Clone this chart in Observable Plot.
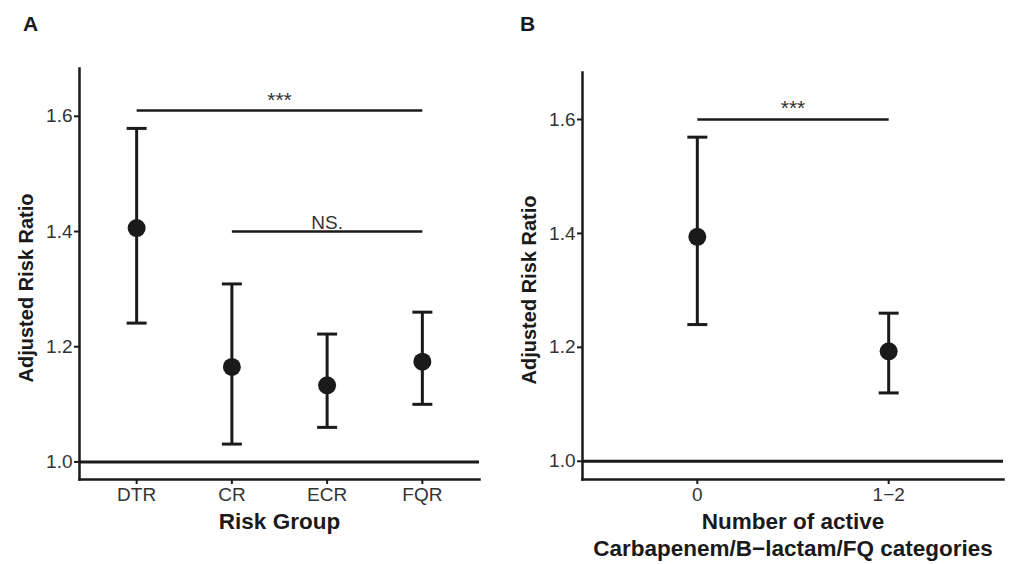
<!DOCTYPE html>
<html><head><meta charset="utf-8">
<script src="https://cdn.jsdelivr.net/npm/d3@7"></script>
<script src="https://cdn.jsdelivr.net/npm/@observablehq/plot@0.6"></script>
<style>
body{margin:0;background:#fff;font-family:"Liberation Sans",Arial,sans-serif;}
#wrap{position:relative;width:1011px;height:564px;overflow:hidden;}
.panel{position:absolute;top:0;}
.tag{position:absolute;font:bold 21px "Liberation Sans",Arial,sans-serif;color:#1a1a1a;line-height:1;}
</style></head><body>
<div id="wrap">
<div id="pa" class="panel" style="left:0"></div>
<div id="pb" class="panel" style="left:505px"></div>
<div class="tag" style="left:23px;top:13px">A</div>
<div class="tag" style="left:520px;top:13px">B</div>
</div>
<script>
// Panel A
const groupsA = ["DTR", "CR", "ECR", "FQR"];
const rrA = [1.406, 1.165, 1.133, 1.174];
const loA = [1.241, 1.031, 1.060, 1.100];
const hiA = [1.579, 1.309, 1.222, 1.260];
const bracketsA = [
  {from: "DTR", to: "FQR", y: 1.61, label: "***"},
  {from: "CR", to: "FQR", y: 1.40, label: "NS."}
];
// Panel B
const groupsB = ["0", "1\u22122"];
const rrB = [1.394, 1.193];
const loB = [1.240, 1.120];
const hiB = [1.569, 1.260];
const bracketsB = [
  {from: "0", to: "1\u22122", y: 1.60, label: "***"}
];
const yTicks = [1.0, 1.2, 1.4, 1.6];
const refValue = 1.0;
const yLabel = "Adjusted Risk Ratio";
const xLabelA = "Risk Group";
const xLabelB = "Number of active\nCarbapenem/B\u2212lactam/FQ categories";

const ink = "#1a1a1a";
const cap = {draw(ctx) { ctx.moveTo(-10, 0); ctx.lineTo(10, 0); }};

function panel({cats, rr, lo, hi, brackets, width, ml, mr, mt, mb, domain, xlabel}) {
  const idx = cats.map((c, i) => i + 1);
  const rows = cats.map((c, i) => ({x: i + 1, rr: rr[i], lo: lo[i], hi: hi[i]}));
  const pos = c => cats.indexOf(c) + 1;
  const br = brackets.map(b => ({x1: pos(b.from), x2: pos(b.to), xm: (pos(b.from) + pos(b.to)) / 2, y: b.y, label: b.label, stars: b.label.startsWith("*")}));
  return Plot.plot({
    width, height: 564,
    marginLeft: ml, marginRight: mr, marginTop: mt, marginBottom: mb,
    style: {fontFamily: "Liberation Sans, Arial, sans-serif", color: ink, background: "#fff", overflow: "visible"},
    x: {domain: [0.4, cats.length + 0.6]},
    y: {domain},
    marks: [
      Plot.axisX({ticks: idx, tickFormat: i => cats[i - 1], tickSize: 5, tickPadding: 3, fontSize: 19, strokeWidth: 2, stroke: ink, fill: "#333", label: null}),
      Plot.axisY({ticks: yTicks, tickFormat: d3.format(".1f"), tickSize: 5, tickPadding: 2, fontSize: 19, strokeWidth: 2, stroke: ink, fill: "#333", label: null}),
      Plot.frame({anchor: "left", stroke: ink, strokeWidth: 2.5}),
      Plot.frame({anchor: "bottom", stroke: ink, strokeWidth: 2.5}),
      Plot.ruleY([refValue], {stroke: ink, strokeWidth: 3}),
      Plot.ruleX(rows, {x: "x", y1: "lo", y2: "hi", stroke: ink, strokeWidth: 3}),
      Plot.dot(rows, {x: "x", y: "lo", symbol: cap, stroke: ink, strokeWidth: 3, fill: "none"}),
      Plot.dot(rows, {x: "x", y: "hi", symbol: cap, stroke: ink, strokeWidth: 3, fill: "none"}),
      Plot.dot(rows, {x: "x", y: "rr", r: 9, fill: ink, stroke: "none"}),
      Plot.link(br, {x1: "x1", x2: "x2", y1: "y", y2: "y", stroke: ink, strokeWidth: 2.5}),
      Plot.text(br.filter(d => d.stars), {x: "xm", y: "y", text: "label", lineAnchor: "bottom", dy: -4, fontSize: 21, fill: "#333"}),
      Plot.text(br.filter(d => !d.stars), {x: "xm", y: "y", text: "label", lineAnchor: "bottom", dy: -3, fontSize: 19, fill: "#333"}),
      Plot.text([yLabel], {text: d => d, frameAnchor: "left", textAnchor: "middle", rotate: -90, dx: -53, dy: 14, fontSize: 20, fontWeight: "bold", fill: ink}),
      Plot.text([xlabel], {text: d => d, frameAnchor: "bottom", textAnchor: "middle", lineAnchor: "top", dy: 30, fontSize: 22.5, fontWeight: "bold", fill: ink, lineHeight: 1.2})
    ]
  });
}

document.getElementById("pa").append(panel({
  cats: groupsA, rr: rrA, lo: loA, hi: hiA, brackets: bracketsA,
  width: 505, ml: 79, mr: 26, mt: 68, mb: 85, domain: [0.9695, 1.683],
  xlabel: xLabelA
}));
document.getElementById("pb").append(panel({
  cats: groupsB, rr: rrB, lo: loB, hi: hiB, brackets: bracketsB,
  width: 506, ml: 77, mr: 8, mt: 72, mb: 85, domain: [0.968, 1.6825],
  xlabel: xLabelB
}));
</script>
</body></html>
